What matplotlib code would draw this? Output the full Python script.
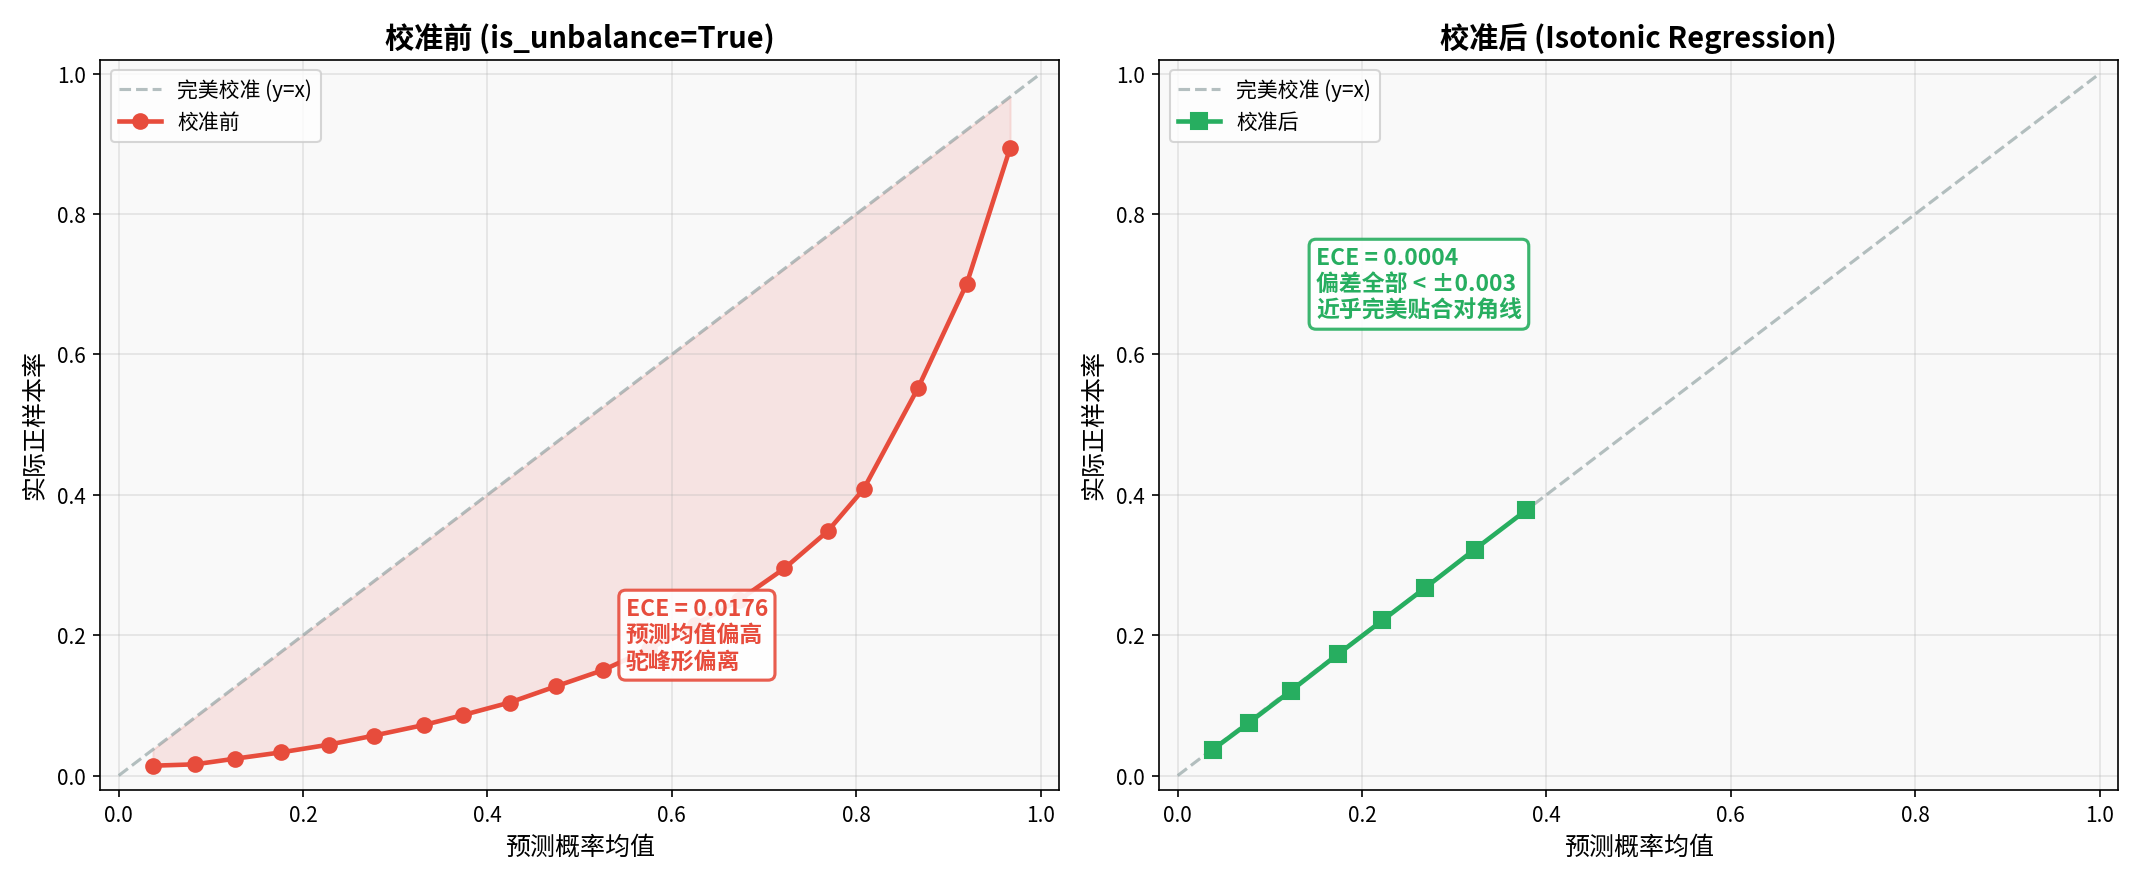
import numpy as np
import matplotlib
matplotlib.use("Agg")
import matplotlib.pyplot as plt

plt.rcParams['font.family'] = ['Noto Sans CJK SC', 'DejaVu Sans']
plt.rcParams['axes.unicode_minus'] = False

# before calibration (is_unbalance=True), 20 bins
before_pred = [0.037, 0.083, 0.126, 0.176, 0.228, 0.277, 0.331, 0.373, 0.424, 0.474,
               0.525, 0.575, 0.625, 0.673, 0.722, 0.769, 0.808, 0.867, 0.920, 0.967]
before_true = [0.014, 0.016, 0.024, 0.033, 0.044, 0.057, 0.072, 0.086, 0.104, 0.127,
               0.150, 0.180, 0.215, 0.250, 0.295, 0.348, 0.408, 0.552, 0.701, 0.894]

# after isotonic regression
after_pred = [0.038, 0.077, 0.123, 0.174, 0.222, 0.268, 0.322, 0.378]
after_true = [0.037, 0.075, 0.121, 0.173, 0.221, 0.267, 0.322, 0.378]

titles = ["校准前 (is_unbalance=True)", "校准后 (Isotonic Regression)"]
ece_text_before = "ECE = 0.0176\n预测均值偏高\n驼峰形偏离"
ece_text_after = "ECE = 0.0004\n偏差全部 < ±0.003\n近乎完美贴合对角线"

RED = "#e74c3c"
GREEN = "#27ae60"
GRAY = "#95a5a6"


def style_axis(ax, title):
    ax.set_facecolor("#f9f9f9")
    ax.set_xlim(-0.02, 1.02)
    ax.set_ylim(-0.02, 1.02)
    ax.set_xlabel("预测概率均值", fontsize=12)
    ax.set_ylabel("实际正样本率", fontsize=12)
    ax.set_title(title, fontsize=14, fontweight="bold")
    ax.grid(True, alpha=0.3)
    ax.legend(loc="upper left", fontsize=10)


fig, axes = plt.subplots(1, 2, figsize=(14.27, 5.89), dpi=150)

ax = axes[0]
ax.plot([0, 1], [0, 1], "--", color=GRAY, alpha=0.7, lw=1.5, label="完美校准 (y=x)")
ax.plot(before_pred, before_true, "o-", color=RED, lw=2.2, ms=7, label="校准前")
bp = np.array(before_pred)
ax.fill_between(bp, bp, before_true, color=RED, alpha=0.12)
ax.text(0.55, 0.20, ece_text_before, fontsize=11, fontweight="bold", color=RED,
        va="center", ha="left",
        bbox=dict(boxstyle="round,pad=0.3", facecolor="white", edgecolor=RED,
                  alpha=0.9, lw=1.5))
style_axis(ax, titles[0])

ax = axes[1]
ax.plot([0, 1], [0, 1], "--", color=GRAY, alpha=0.7, lw=1.5, label="完美校准 (y=x)")
ax.plot(after_pred, after_true, "s-", color=GREEN, lw=2.2, ms=8, label="校准后")
ax.text(0.15, 0.70, ece_text_after, fontsize=11, fontweight="bold", color=GREEN,
        va="center", ha="left",
        bbox=dict(boxstyle="round,pad=0.3", facecolor="white", edgecolor=GREEN,
                  alpha=0.9, lw=1.5))
style_axis(ax, titles[1])

plt.tight_layout()
plt.savefig("out.png", dpi=150)
plt.close()
